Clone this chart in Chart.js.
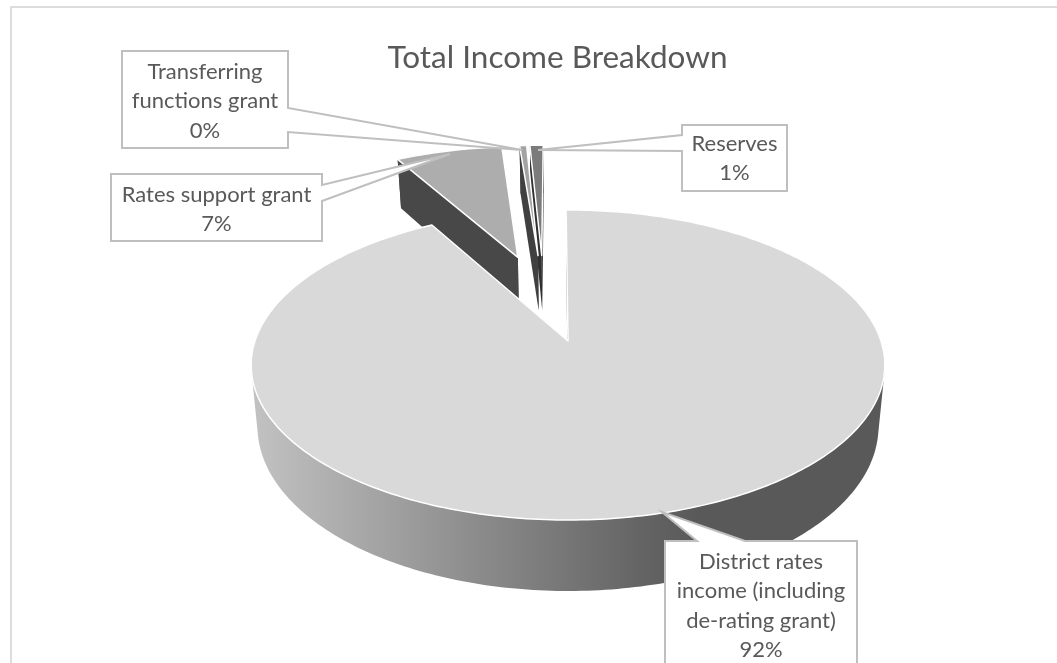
<!DOCTYPE html>
<html lang="en">
<head>
  <meta charset="UTF-8" />
  <title>Total Income Breakdown</title>
  <script src="https://cdn.jsdelivr.net/npm/chart.js"></script>
  <style>
    body { margin: 0; background: #fff; }
    .wrap { position: relative; width: 1057px; height: 663px; overflow: hidden; }
    .frame {
      position: absolute; left: 10px; top: 6px; width: 1100px; height: 700px;
      border: 2px solid #dcdcdc; box-sizing: border-box;
    }
    canvas { position: absolute; left: 0; top: 0; }
  </style>
</head>
<body>
  <div class="wrap">
    <div class="frame"></div>
    <canvas id="incomeChart" width="1057" height="663"></canvas>
  </div>

  <script>
    const categories = ["District rates income (including de-rating grant)", "Rates support grant", "Transferring functions grant", "Reserves"];
    const incomeShare = [91.9, 6.8, 0.45, 0.85];
    const wrappedNames = [
      ["District rates", "income (including", "de-rating grant)"],
      ["Rates support grant"],
      ["Transferring", "functions grant"],
      ["Reserves"]
    ];

    const topColors = ["#d9d9d9", "#adadad", "#a3a3a3", "#7b7b7b"];
    const wallColors = ["#6a6a6a", "#484848", "#404040", "#303030"];

    // perspective of the disc: centre of the big slice, horizontal and depth scale, foreshortening
    const view = { cx: 568, cy: 341, a: 313, b: 151.3, k: 0.1548, depth: 60, shrink: 0.02, explode: 0.315 };

    function project(X, Z, low) {
      const d = 1 + view.k * Z;
      const sx = low ? 1 - view.shrink : 1;
      return {
        x: view.cx + view.a * X / d * sx,
        y: view.cy - view.b * Z / d + (low ? view.depth / d : 0)
      };
    }

    function addPoints(ctx, pts) {
      pts.forEach((p, i) => i ? ctx.lineTo(p.x, p.y) : ctx.moveTo(p.x, p.y));
      ctx.closePath();
    }

    function tracePoints(ctx, pts) {
      ctx.beginPath();
      addPoints(ctx, pts);
    }

    // keeps every quad wound the same way, otherwise overlaps cancel under the nonzero rule
    function clockwise(pts) {
      let area = 0;
      pts.forEach((p, i) => {
        const n = pts[(i + 1) % pts.length];
        area += p.x * n.y - n.x * p.y;
      });
      return area < 0 ? pts.slice().reverse() : pts;
    }

    // outline of one slice in disc coordinates, moved out along its middle angle
    function sliceGeometry(arc, origin) {
      const mid = (arc.startAngle + arc.endAngle) / 2;
      const ox = view.explode * Math.cos(mid) - origin.x;
      const oz = -view.explode * Math.sin(mid) - origin.z;
      const rim = [];
      const steps = Math.max(2, Math.ceil((arc.endAngle - arc.startAngle) * 60));
      for (let i = 0; i <= steps; i++) {
        const t = arc.startAngle + (arc.endAngle - arc.startAngle) * i / steps;
        rim.push({ X: ox + Math.cos(t), Z: oz - Math.sin(t) });
      }
      return { apex: { X: ox, Z: oz }, rim };
    }

    const tiltedPie = {
      id: "tiltedPie",
      beforeDatasetsDraw(chart) {
        const { ctx } = chart;
        const arcs = chart.getDatasetMeta(0).data;
        const m = (arcs[0].startAngle + arcs[0].endAngle) / 2;
        const origin = { x: view.explode * Math.cos(m), z: -view.explode * Math.sin(m) };

        const wallFill = ctx.createLinearGradient(252, 0, 700, 0);
        wallFill.addColorStop(0, "#c2c2c2");
        wallFill.addColorStop(0.85, "#666666");
        wallFill.addColorStop(1, "#595959");

        // the small slices sit behind the big one, so paint them first
        [3, 2, 1, 0].forEach(i => {
          const g = sliceGeometry(arcs[i], origin);
          const first = g.rim[0], last = g.rim[g.rim.length - 1];

          [first, last].forEach(edge => {
            tracePoints(ctx, [
              project(g.apex.X, g.apex.Z, false), project(edge.X, edge.Z, false),
              project(edge.X, edge.Z, true), project(g.apex.X, g.apex.Z, true)
            ]);
            ctx.fillStyle = wallColors[i];
            ctx.fill();
          });

          // outer wall as one strip of quads so the silhouette runs straight down
          ctx.beginPath();
          g.rim.slice(1).forEach((p, j) => {
            const q = g.rim[j];
            addPoints(ctx, clockwise([project(q.X, q.Z, false), project(p.X, p.Z, false), project(p.X, p.Z, true), project(q.X, q.Z, true)]));
          });
          ctx.fillStyle = i === 0 ? wallFill : wallColors[i];
          ctx.fill();

          tracePoints(ctx, [project(g.apex.X, g.apex.Z, false)].concat(g.rim.map(p => project(p.X, p.Z, false))));
          ctx.fillStyle = arcs[i].options.backgroundColor;
          ctx.fill();
          ctx.strokeStyle = "#fff";
          ctx.lineWidth = 1.5;
          ctx.lineJoin = "round";
          ctx.stroke();
        });
        return false;
      }
    };

    // callout outlines, in the same order as categories
    const callouts = [
      { cx: 761, top: 562, outline: [[665,541],[697,541],[662,512],[745,541],[857,541],[857,690],[665,690]] },
      { cx: 216.5, top: 195, outline: [[111,174],[322,174],[322,185],[450,154],[322,201],[322,241],[111,241]] },
      { cx: 205, top: 72, outline: [[122,51],[288,51],[288,108],[522,150],[288,132],[288,148],[122,148]] },
      { cx: 734.5, top: 144, outline: [[682,125],[787,125],[787,191],[682,191],[682,151],[538,150],[682,135]] }
    ];

    const dataCallouts = {
      id: "dataCallouts",
      afterDraw(chart) {
        const { ctx } = chart;
        const total = incomeShare.reduce((s, v) => s + v, 0);
        callouts.forEach((c, i) => {
          ctx.beginPath();
          c.outline.forEach((p, j) => j ? ctx.lineTo(p[0], p[1]) : ctx.moveTo(p[0], p[1]));
          ctx.closePath();
          ctx.fillStyle = "#fff";
          ctx.fill();
          ctx.strokeStyle = "#bfbfbf";
          ctx.lineWidth = 2;
          ctx.lineJoin = "miter";
          ctx.stroke();

          const lines = wrappedNames[i].concat(Math.round(incomeShare[i] / total * 100) + "%");
          ctx.fillStyle = "#595959";
          ctx.font = "22px Lato, sans-serif";
          ctx.textAlign = "center";
          ctx.textBaseline = "middle";
          lines.forEach((t, j) => ctx.fillText(t, c.cx, c.top + j * 29.4));
        });
      }
    };

    new Chart(document.getElementById("incomeChart"), {
      type: "pie",
      data: {
        labels: categories,
        datasets: [{ data: incomeShare, backgroundColor: topColors, borderWidth: 0 }]
      },
      options: {
        responsive: false,
        animation: false,
        rotation: -0.4,
        layout: { padding: { left: 58 } },
        events: [],
        plugins: {
          legend: { display: false },
          tooltip: { enabled: false },
          title: {
            display: true,
            text: "Total Income Breakdown",
            color: "#595959",
            font: { family: "Lato, sans-serif", size: 31.5, weight: "normal" },
            padding: { top: 39, bottom: 10 }
          }
        }
      },
      plugins: [tiltedPie, dataCallouts]
    });
  </script>
</body>
</html>
